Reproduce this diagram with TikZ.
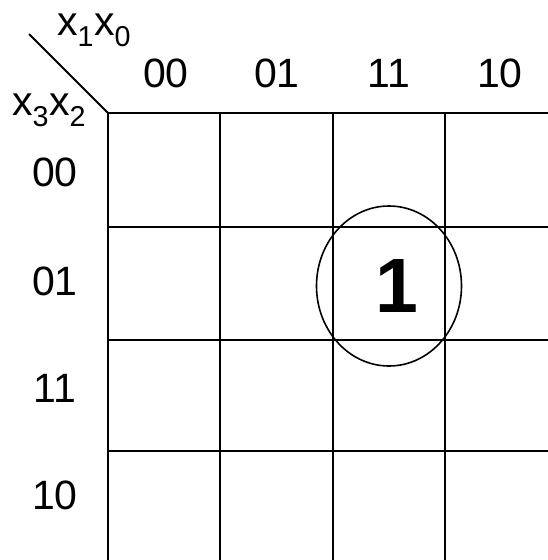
\documentclass[tikz,border=0pt]{standalone}
\usepackage{fontspec}
\setmainfont{Liberation Sans}
\begin{document}
\begin{tikzpicture}[x=1pt,y=-1pt,
  grid/.style={line width=2.6pt,black},
  lbl/.style={font=\fontsize{41}{41}\selectfont,inner sep=0pt,anchor=base},
  lbll/.style={font=\fontsize{41}{41}\selectfont,inner sep=0pt,anchor=base west}]
\useasboundingbox (0,0) rectangle (547,560);
% grid
\foreach \x in {108,220,333,445} \draw[grid] (\x,113) -- (\x,562);
\foreach \y in {113,227,340,451} \draw[grid] (108,\y) -- (549,\y);
% corner diagonal
\coordinate (d1) at (29,34);
\coordinate (d2) at (108,113);
\draw[line width=2pt] (d1) -- (d2);
% axis labels
\node[lbll] (cx) at (57,35) {x\textsubscript{1}x\textsubscript{0}};
\node[lbll] (rx) at (12,115) {x\textsubscript{3}x\textsubscript{2}};
% column labels
\node[lbl] (c0) at (166,87) {00};
\node[lbl] (c1) at (277,87) {01};
\node[lbl] (c2) at (389,87) {11};
\node[lbl] (c3) at (500,87) {10};
% row labels
\node[lbl] (r0) at (55,186) {00};
\node[lbl] (r1) at (55,295) {01};
\node[lbl] (r2) at (55,402) {11};
\node[lbl] (r3) at (55,509) {10};
% the one
\node[font=\fontsize{77}{77}\selectfont\bfseries,inner sep=0pt,anchor=base] (one) at (397,312) {1};
\draw[line width=1.6pt] (389,286) ellipse [x radius=72.5, y radius=80];
\end{tikzpicture}
\end{document}
